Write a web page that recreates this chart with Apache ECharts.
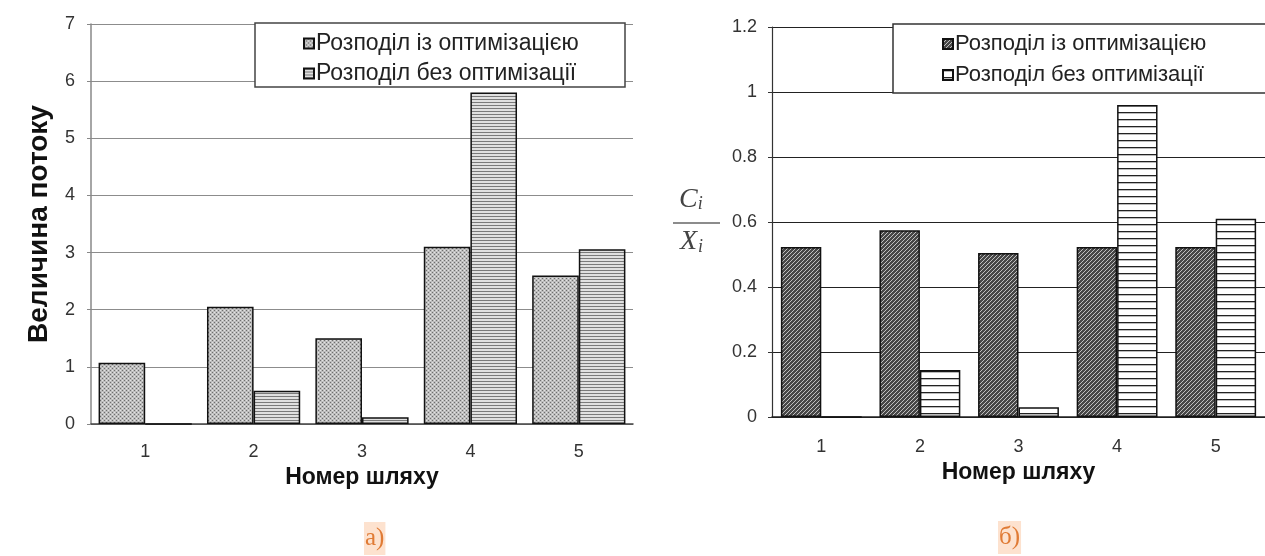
<!DOCTYPE html>
<html lang="uk">
<head>
<meta charset="UTF-8">
<style>
html, body { height: 100%; margin: 0; background: #fff; }
</style>
</head>
<body>
<div id="chart" style="width:1265px;height:556px;"></div>
<script src="https://cdn.jsdelivr.net/npm/echarts@6/dist/echarts.min.js"></script>
<script>
// data
var paths = ['1', '2', '3', '4', '5'];
var flowOpt = [1.07, 2.05, 1.5, 3.1, 2.6];
var flowNoOpt = [0, 0.58, 0.12, 5.8, 3.06];
var ratioOpt = [0.523, 0.575, 0.505, 0.523, 0.523];
var ratioNoOpt = [0, 0.145, 0.03, 0.96, 0.61];
var nameOpt = 'Розподіл із оптимізацією';
var nameNoOpt = 'Розподіл без оптимізації';

// small canvases used as fill patterns
function pattern(w, h, bg, pixels) {
    var c = document.createElement('canvas');
    c.width = w; c.height = h;
    var ctx = c.getContext('2d');
    ctx.fillStyle = bg;
    ctx.fillRect(0, 0, w, h);
    pixels.forEach(function (p) {
        ctx.fillStyle = p[2];
        ctx.fillRect(p[0], p[1], 1, 1);
    });
    return { image: c, repeat: 'repeat' };
}
var dots = pattern(4, 4, '#bdbdbd', [[0, 0, '#6e6e6e'], [2, 2, '#6e6e6e'], [2, 0, '#e4e4e4'], [0, 2, '#e4e4e4']]);
var greyStripes = pattern(1, 3, '#e0e0e0', [[0, 0, '#7a7a7a']]);
var hatch = pattern(4, 4, '#474747', [[3, 0, '#c0c0c0'], [2, 1, '#c0c0c0'], [1, 2, '#c0c0c0'], [0, 3, '#c0c0c0']]);
var blackStripes = pattern(1, 7, '#ffffff', [[0, 0, '#222222'], [0, 1, '#bbbbbb']]);

var font = '"Liberation Sans", Arial, sans-serif';
var border = { borderColor: '#111', borderWidth: 1.5 };

function bar(name, data, idx, fill, gap) {
    return {
        name: name, type: 'bar', data: data,
        xAxisIndex: idx, yAxisIndex: idx,
        barGap: '0%', barCategoryGap: gap,
        itemStyle: Object.assign({ color: fill }, border)
    };
}

var myChart = echarts.init(document.getElementById('chart'));
myChart.setOption({
    animation: false,
    textStyle: { fontFamily: font },
    grid: [
        { left: 91, top: 24, width: 542, height: 400 },
        { left: 772, top: 27, width: 500, height: 390 }
    ],
    legend: [
        {
            data: [nameOpt, nameNoOpt],
            orient: 'vertical', left: 298, top: 27, itemGap: 7,
            itemWidth: 10, itemHeight: 10, icon: 'rect',
            textStyle: { fontSize: 23, color: '#222', padding: [0, 0, 0, -3] }
        },
        {
            data: [nameOpt + ' ', nameNoOpt + ' '],
            orient: 'vertical', left: 937, top: 28, itemGap: 9,
            itemWidth: 10, itemHeight: 10, icon: 'rect',
            textStyle: { fontSize: 22, color: '#222', padding: [0, 0, 0, -3] }
        }
    ],
    xAxis: [
        {
            type: 'category', data: paths, gridIndex: 0,
            name: 'Номер шляху', nameLocation: 'middle', nameGap: 30,
            nameTextStyle: { fontSize: 23, fontWeight: 'bold', color: '#111' },
            axisLine: { lineStyle: { color: '#444', width: 1.5 } },
            axisTick: { length: 4, lineStyle: { color: '#888' } },
            axisLabel: { fontSize: 18, color: '#333', margin: 19 }
        },
        {
            type: 'category', data: paths, gridIndex: 1,
            name: 'Номер шляху', nameLocation: 'middle', nameGap: 37,
            nameTextStyle: { fontSize: 23, fontWeight: 'bold', color: '#111' },
            axisLine: { lineStyle: { color: '#222', width: 1.5 } },
            axisTick: { length: 4, lineStyle: { color: '#444' } },
            axisLabel: { fontSize: 18, color: '#333', margin: 21 }
        }
    ],
    yAxis: [
        {
            type: 'value', gridIndex: 0, min: 0, max: 7, interval: 1,
            name: 'Величина потоку', nameLocation: 'middle', nameGap: 38,
            nameTextStyle: { fontSize: 28, fontWeight: 'bold', color: '#111' },
            axisLine: { show: true, lineStyle: { color: '#888', width: 1.5 } },
            axisTick: { show: true, length: 4, lineStyle: { color: '#888' } },
            axisLabel: { fontSize: 18, color: '#333', margin: 16 },
            splitLine: { lineStyle: { color: '#8c8c8c', width: 1.2 } }
        },
        {
            type: 'value', gridIndex: 1, min: 0, max: 1.2, interval: 0.2,
            axisLine: { show: true, lineStyle: { color: '#333', width: 1.2 } },
            axisTick: { show: true, length: 4, lineStyle: { color: '#333' } },
            axisLabel: { fontSize: 18, color: '#333', margin: 15 },
            splitLine: { lineStyle: { color: '#222', width: 1.2 } }
        }
    ],
    graphic: [
        // legend frames
        { type: 'rect', z: 3, shape: { x: 255, y: 23, width: 370, height: 64 },
          style: { fill: '#fff', stroke: '#444', lineWidth: 1.5 } },
        { type: 'rect', z: 3, shape: { x: 893, y: 24, width: 390, height: 69 },
          style: { fill: '#fff', stroke: '#333', lineWidth: 1.5 } },
        // fraction C_i / X_i
        { type: 'text', left: 679, top: 186, z: 5,
          style: { text: '{v|C}{s|i}', rich: {
              v: { fontFamily: '"Liberation Serif", serif', fontStyle: 'italic', fontSize: 28, fill: '#444' },
              s: { fontFamily: '"Liberation Serif", serif', fontStyle: 'italic', fontSize: 18, fill: '#444', padding: [8, 0, 0, 0] } } } },
        { type: 'line', z: 5, shape: { x1: 673, y1: 223, x2: 720, y2: 223 },
          style: { stroke: '#666', lineWidth: 1.5 } },
        { type: 'text', left: 680, top: 228, z: 5,
          style: { text: '{v|X}{s|i}', rich: {
              v: { fontFamily: '"Liberation Serif", serif', fontStyle: 'italic', fontSize: 28, fill: '#444' },
              s: { fontFamily: '"Liberation Serif", serif', fontStyle: 'italic', fontSize: 18, fill: '#444', padding: [10, 0, 0, 1] } } } },
        // sub-figure labels
        { type: 'text', left: 364, top: 522,
          style: { text: 'а)', fontFamily: '"Liberation Serif", serif', fontSize: 25, fill: '#e07b35',
                   backgroundColor: '#fde2cf', padding: [4, 1, 4, 1] } },
        { type: 'text', left: 998, top: 521,
          style: { text: 'б)', fontFamily: '"Liberation Serif", serif', fontSize: 25, fill: '#e07b35',
                   backgroundColor: '#fde2cf', padding: [4, 1, 4, 1] } }
    ],
    series: [
        bar(nameOpt, flowOpt, 0, dots, '14%'),
        bar(nameNoOpt, flowNoOpt, 0, greyStripes, '14%'),
        bar(nameOpt + ' ', ratioOpt, 1, hatch, '18%'),
        bar(nameNoOpt + ' ', ratioNoOpt, 1, blackStripes, '18%')
    ]
});
</script>
</body>
</html>
